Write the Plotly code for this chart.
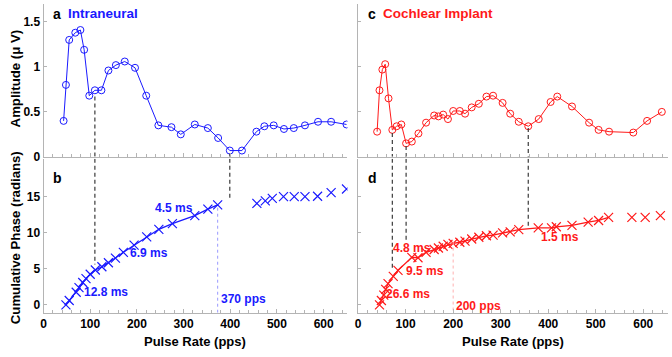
import plotly.graph_objects as go

# ---------------- data ----------------
# Intraneural amplitude (uV)
amp_l_x = [43, 48, 55, 68, 79, 87, 98, 110, 124, 139, 155, 174, 196, 220, 246, 274, 294,
           324, 352, 374, 399, 425, 456, 473, 493, 515, 536, 560, 588, 616, 649]
amp_l_y = [0.40, 0.80, 1.30, 1.38, 1.41, 1.19, 0.68, 0.74, 0.74, 0.96, 1.02, 1.06, 0.99,
           0.68, 0.35, 0.33, 0.25, 0.36, 0.32, 0.21, 0.07, 0.07, 0.28, 0.34, 0.35, 0.31,
           0.32, 0.35, 0.39, 0.39, 0.36]
# Intraneural cumulative phase (radians)
ph_l_x = [48, 55, 70, 76, 84, 91, 100, 111, 125, 139, 154, 171, 194, 221, 247, 276, 324,
          352, 373, 457, 475, 490, 514, 537, 560, 587, 616, 649]
ph_l_y = [0.0, 0.6, 1.75, 2.4, 3.1, 3.65, 4.25, 4.85, 5.3, 5.85, 6.5, 7.3, 8.3, 9.45, 10.5,
          11.3, 12.4, 13.3, 13.9, 14.1, 14.45, 14.8, 15.05, 15.05, 15.05, 15.1, 15.6, 16.1]
fit_l_max = 373

# Cochlear implant amplitude (uV)
amp_r_x = [40, 45, 51, 57, 64, 72, 81, 91, 101, 113, 127, 143, 160, 169, 179, 189, 200,
           214, 225, 239, 254, 270, 284, 304, 320, 338, 358, 380, 405, 419, 450, 486, 506,
           528, 579, 608, 639]
amp_r_y = [0.28, 0.74, 0.97, 1.03, 0.65, 0.30, 0.34, 0.36, 0.15, 0.17, 0.26, 0.38, 0.46,
           0.45, 0.47, 0.42, 0.51, 0.51, 0.48, 0.55, 0.59, 0.67, 0.68, 0.60, 0.48, 0.39,
           0.34, 0.42, 0.61, 0.67, 0.56, 0.38, 0.30, 0.28, 0.27, 0.40, 0.50]
# Cochlear implant cumulative phase (radians)
ph_r_x = [45, 49, 54, 58, 63, 74, 84, 113, 126, 143, 160, 169, 179, 189, 200, 214, 225,
          239, 254, 270, 284, 304, 320, 338, 379, 407, 417, 450, 484, 506, 527, 576, 604, 636]
ph_r_y = [0.0, 0.6, 1.35, 2.15, 2.95, 3.95, 4.8, 6.6, 6.55, 7.3, 7.7, 7.9, 8.15, 8.4, 8.55,
          8.7, 8.85, 9.15, 9.4, 9.6, 9.7, 10.0, 10.15, 10.45, 10.7, 10.7, 10.85, 11.05,
          11.5, 11.73, 12.15, 12.15, 12.15, 12.4]
fit_r_max = 527

# dashed connector lines (pulse rate, amplitude start, phase end)
dash_l_x = [110, 399]
dash_l_amp = [0.67, 0.036]
dash_l_ph = [5.6, 14.5]
dash_r_x = [72, 101, 358]
dash_r_amp = [0.266, 0.12, 0.32]
dash_r_ph = [4.9, 8.8, 10.95]

# dotted cut-off lines
cut_l_x, cut_l_top = 373, 13.5
cut_r_x, cut_r_top = 200, 8.8

# labels
ms_l = [("4.5 ms", 280, 13.4), ("6.9 ms", 227, 7.2), ("12.8 ms", 133, 1.8)]
ms_r = [("4.8 ms", 114, 7.95), ("9.5 ms", 140, 4.77), ("26.6 ms", 105, 1.5), ("1.5 ms", 425, 9.45)]

X_RANGE = [0, 651]
AMP_RANGE = [0, 1.7]
PH_RANGE = [-1.1, 20.3]

BLUE = "#1a1aff"
RED = "#ff1a1a"
FONT = "Liberation Sans, Arial, sans-serif"
AXC = "#b4b4b4"

fig = go.Figure()


def add(x, y, xa, ya, **kw):
    fig.add_trace(go.Scatter(x=x, y=y, xaxis=xa, yaxis=ya, showlegend=False,
                             hoverinfo="skip", **kw))


circ = dict(symbol="circle-open", size=7, line=dict(width=1))
cross = dict(symbol="x-thin-open", size=9, line=dict(width=1.2))

# amplitude panels
add(amp_l_x, amp_l_y, "x", "y", mode="lines+markers", line=dict(color=BLUE, width=1),
    marker=dict(color=BLUE, **circ))
add(amp_r_x, amp_r_y, "x2", "y2", mode="lines+markers", line=dict(color=RED, width=1),
    marker=dict(color=RED, **circ))

# phase panels
fx = [x for x in ph_l_x if x <= fit_l_max]
add(fx, ph_l_y[:len(fx)], "x3", "y3", mode="lines", line=dict(color=BLUE, width=1.3))
add(ph_l_x, ph_l_y, "x3", "y3", mode="markers", marker=dict(color=BLUE, **cross))
fx = [x for x in ph_r_x if x <= fit_r_max]
add(fx, ph_r_y[:len(fx)], "x4", "y4", mode="lines", line=dict(color=RED, width=1.3))
add(ph_r_x, ph_r_y, "x4", "y4", mode="markers", marker=dict(color=RED, **cross))

# dashed connectors
dl = dict(color="#3a3a3a", width=1.2, dash="4px,3px")
for x, a, p in zip(dash_l_x, dash_l_amp, dash_l_ph):
    add([x, x], [a, AMP_RANGE[0]], "x", "y", mode="lines", line=dl)
    add([x, x], [PH_RANGE[1], p], "x3", "y3", mode="lines", line=dl)
for x, a, p in zip(dash_r_x, dash_r_amp, dash_r_ph):
    add([x, x], [a, AMP_RANGE[0]], "x2", "y2", mode="lines", line=dl)
    add([x, x], [PH_RANGE[1], p], "x4", "y4", mode="lines", line=dl)

# dotted cut-off lines
add([cut_l_x, cut_l_x], [cut_l_top, PH_RANGE[0]], "x3", "y3", mode="lines",
    line=dict(color="#9a9aff", width=1, dash="dot"))
add([cut_r_x, cut_r_x], [cut_r_top, PH_RANGE[0]], "x4", "y4", mode="lines",
    line=dict(color="#ffb0b0", width=1, dash="dot"))

# ---------------- layout ----------------
W, H = 672, 357
def px_x(a, b):
    return [a / W, b / W]
def px_y(top, bot):
    return [1 - bot / H, 1 - top / H]

XL = px_x(40.7, 346)
XR = px_x(356.7, 667.5)
YT = px_y(4, 160)
YB = px_y(162, 319)

tickfont = dict(family=FONT, size=12, color="black", weight="bold")


def xax(domain, anchor, labels):
    return dict(domain=domain, anchor=anchor, range=X_RANGE, showline=True, linecolor=AXC,
                linewidth=1, ticks="inside", ticklen=4, tickcolor=AXC, dtick=100, tick0=0,
                showticklabels=labels, tickfont=tickfont, showgrid=False, zeroline=False,
                minor=dict(ticks="inside", ticklen=2.5, tickcolor=AXC, dtick=20, showgrid=False))


def yax(domain, anchor, rng, vals, labels):
    return dict(domain=domain, anchor=anchor, range=rng, showline=True, linecolor=AXC,
                linewidth=1, ticks="inside", ticklen=3, tickcolor=AXC, tickvals=vals,
                showticklabels=labels, tickfont=tickfont, showgrid=False, zeroline=False)


fig.update_layout(
    width=W, height=H, margin=dict(l=0, r=0, t=0, b=0),
    paper_bgcolor="white", plot_bgcolor="white",
    xaxis=xax(XL, "y", False), yaxis=yax(YT, "x", AMP_RANGE, [0, 0.5, 1, 1.5], True),
    xaxis2=xax(XR, "y2", False), yaxis2=yax(YT, "x2", AMP_RANGE, [0, 0.5, 1, 1.5], False),
    xaxis3=xax(XL, "y3", True), yaxis3=yax(YB, "x3", PH_RANGE, [0, 5, 10, 15], True),
    xaxis4=xax(XR, "y4", True), yaxis4=yax(YB, "x4", PH_RANGE, [0, 5, 10, 15], False),
)

ann = []


def txt(text, x, y, xref, yref, color="black", size=12, xanchor="center", angle=0):
    ann.append(dict(text=text, x=x, y=y, xref=xref, yref=yref, showarrow=False,
                    xanchor=xanchor, yanchor="middle", textangle=angle,
                    font=dict(family=FONT, size=size, color=color, weight="bold")))


# panel letters / titles
txt("a", 16, 1.59, "x", "y", size=14, xanchor="left")
txt("Intraneural", 48, 1.59, "x", "y", color=BLUE, size=13.5, xanchor="left")
txt("c", 16, 1.59, "x2", "y2", size=14, xanchor="left")
txt("Cochlear Implant", 48, 1.59, "x2", "y2", color=RED, size=13.5, xanchor="left")
txt("b", 16, 17.6, "x3", "y3", size=14, xanchor="left")
txt("d", 16, 17.7, "x4", "y4", size=14, xanchor="left")

for t, x, y in ms_l:
    txt(t, x, y, "x3", "y3", color=BLUE)
for t, x, y in ms_r:
    txt(t, x, y, "x4", "y4", color=RED)
txt(f"{cut_l_x - 3} pps", cut_l_x + 3, 0.8, "x3", "y3", color=BLUE, xanchor="left")
txt(f"{cut_r_x} pps", cut_r_x + 2, -0.1, "x4", "y4", color=RED, xanchor="left")

# axis titles
txt("Amplitude (μ V)", 12 / W, 1 - 80 / H, "paper", "paper", size=13.2, angle=-90)
txt("Cumulative Phase (radians)", 12 / W, 1 - 242 / H, "paper", "paper", size=13.2, angle=-90)
txt("Pulse Rate (pps)", (XL[0] + XL[1]) / 2, 1 - 348 / H, "paper", "paper", size=13)
txt("Pulse Rate (pps)", (XR[0] + XR[1]) / 2, 1 - 348 / H, "paper", "paper", size=13)

fig.update_layout(annotations=ann)
fig.write_html("out.html", config={"displayModeBar": False},
               post_script="document.body.style.margin='0';document.body.style.padding='0';")
